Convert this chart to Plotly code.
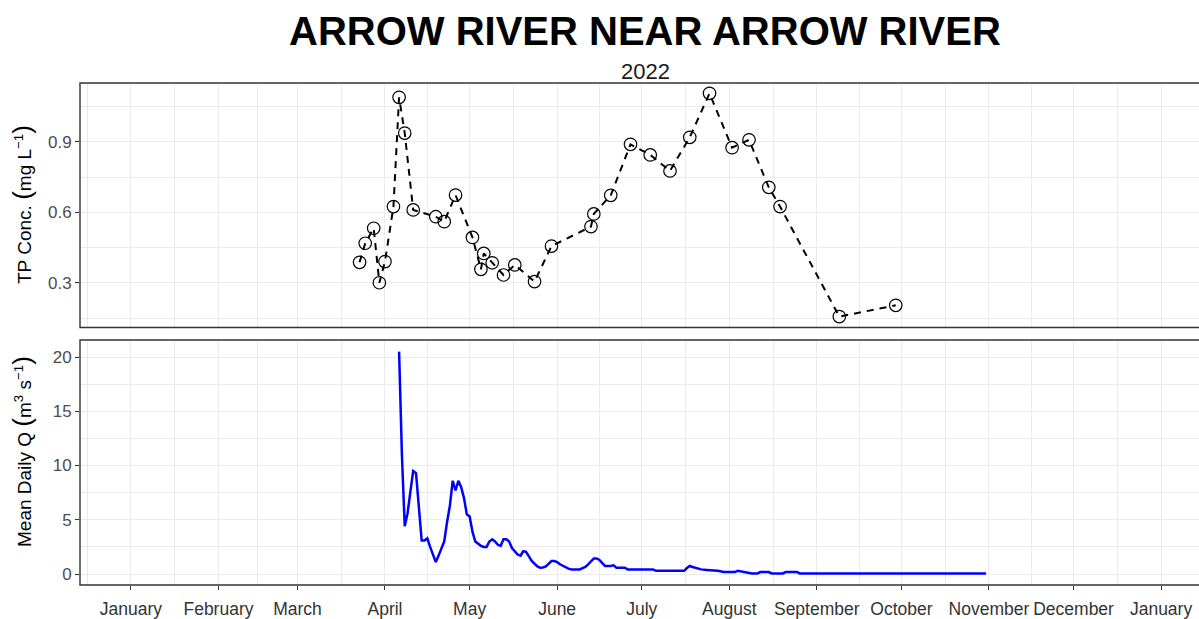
import pandas as pd
import plotly.graph_objects as go

# ---------------- data ----------------
tp_dates = ["2022-03-23", "2022-03-25", "2022-03-28", "2022-03-30", "2022-04-01",
            "2022-04-04", "2022-04-06", "2022-04-08", "2022-04-11", "2022-04-19",
            "2022-04-22", "2022-04-26", "2022-05-02", "2022-05-05", "2022-05-06",
            "2022-05-09", "2022-05-13", "2022-05-17", "2022-05-24", "2022-05-30",
            "2022-06-13", "2022-06-14", "2022-06-20", "2022-06-27", "2022-07-04",
            "2022-07-11", "2022-07-18", "2022-07-25", "2022-08-02", "2022-08-08",
            "2022-08-15", "2022-08-19", "2022-09-09", "2022-09-29"]
tp_conc = [0.388, 0.469, 0.533, 0.301, 0.391,
           0.625, 1.090, 0.938, 0.611, 0.582,
           0.561, 0.674, 0.494, 0.358, 0.426,
           0.386, 0.334, 0.377, 0.306, 0.457,
           0.540, 0.594, 0.673, 0.890, 0.845,
           0.777, 0.920, 1.107, 0.876, 0.909,
           0.707, 0.625, 0.157, 0.205]

q_dates = ["2022-04-06", "2022-04-07", "2022-04-08", "2022-04-09", "2022-04-10",
           "2022-04-11", "2022-04-12", "2022-04-13", "2022-04-14", "2022-04-15",
           "2022-04-16", "2022-04-17", "2022-04-18", "2022-04-19", "2022-04-20",
           "2022-04-21", "2022-04-22", "2022-04-23", "2022-04-24", "2022-04-25",
           "2022-04-26", "2022-04-27", "2022-04-28", "2022-04-29", "2022-04-30",
           "2022-05-01", "2022-05-02", "2022-05-03", "2022-05-04", "2022-05-05",
           "2022-05-06", "2022-05-07", "2022-05-08", "2022-05-09", "2022-05-10",
           "2022-05-11", "2022-05-12", "2022-05-13", "2022-05-14", "2022-05-15",
           "2022-05-16", "2022-05-17", "2022-05-18", "2022-05-19", "2022-05-20",
           "2022-05-21", "2022-05-22", "2022-05-23", "2022-05-24", "2022-05-25",
           "2022-05-26", "2022-05-27", "2022-05-28", "2022-05-29", "2022-05-30",
           "2022-05-31", "2022-06-01", "2022-06-02", "2022-06-03", "2022-06-04",
           "2022-06-05", "2022-06-06", "2022-06-09", "2022-06-10", "2022-06-11",
           "2022-06-12", "2022-06-13", "2022-06-14", "2022-06-15", "2022-06-16",
           "2022-06-17", "2022-06-18", "2022-06-20", "2022-06-21", "2022-06-22",
           "2022-06-25", "2022-06-26", "2022-07-05", "2022-07-06", "2022-07-16",
           "2022-07-17", "2022-07-18", "2022-07-19", "2022-07-20", "2022-07-21",
           "2022-07-22", "2022-07-24", "2022-07-28", "2022-07-30", "2022-08-03",
           "2022-08-04", "2022-08-06", "2022-08-09", "2022-08-11", "2022-08-12",
           "2022-08-15", "2022-08-16", "2022-08-20", "2022-08-21", "2022-08-25",
           "2022-08-26", "2022-10-31"]
q_vals = [20.5, 11.0, 4.4, 5.6, 7.6,
          9.5, 9.3, 5.8, 3.1, 3.1,
          3.3, 2.5, 1.7, 1.1, 1.7,
          2.3, 3.0, 4.8, 6.3, 8.6,
          7.7, 8.6, 8.0, 7.0, 5.5,
          5.3, 3.9, 3.0, 2.8, 2.6,
          2.5, 2.5, 3.0, 3.2, 3.0,
          2.7, 2.6, 3.2, 3.2, 3.0,
          2.4, 2.1, 1.8, 1.7, 2.1,
          2.05, 1.6, 1.2, 0.95, 0.7,
          0.58, 0.6, 0.7, 1.0, 1.2,
          1.2, 1.1, 0.9, 0.75, 0.6,
          0.5, 0.43, 0.43, 0.55, 0.65,
          0.9, 1.2, 1.44, 1.44, 1.3,
          1.0, 0.74, 0.74, 0.8, 0.58,
          0.58, 0.43, 0.43, 0.3, 0.3,
          0.55, 0.74, 0.65, 0.58, 0.5,
          0.43, 0.38, 0.3, 0.18, 0.18,
          0.3, 0.18, 0.06, 0.06, 0.18,
          0.18, 0.06, 0.06, 0.18, 0.18,
          0.06, 0.06]

month_starts = pd.date_range("2022-01-01", "2023-01-01", freq="MS")
month_labels = ["January", "February", "March", "April", "May", "June", "July",
                "August", "September", "October", "November", "December", "January"]
tp_ticks = [0.3, 0.6, 0.9]
q_ticks = [0, 5, 10, 15, 20]

# ---------------- layout constants ----------------
W, H = 1199, 619
ML, MR, MT, MB = 80, 0, 83, 34
ref = pd.Timestamp("2022-01-01")
x_range = [ref - pd.Timedelta(days=18.07), ref + pd.Timedelta(days=378.45)]
ph = H - MT - MB
top_dom = [(H - MB - 327.5) / ph, 1.0]
bot_dom = [0.0, (H - MB - 340) / ph]

# minor grid between month starts
ms_ext = pd.date_range("2021-12-01", "2023-02-01", freq="MS")
minor_x = [ms_ext[i] + (ms_ext[i + 1] - ms_ext[i]) / 2 for i in range(len(ms_ext) - 1)]

GRID = "#EBEBEB"
TICKC = "#333333"
FONT = "Liberation Sans, Arial, sans-serif"

fig = go.Figure()
fig.add_trace(go.Scatter(
    x=pd.to_datetime(tp_dates), y=tp_conc, mode="lines",
    line=dict(color="black", width=2, dash="7px,6px"),
    xaxis="x", yaxis="y", showlegend=False, hoverinfo="skip"))
fig.add_trace(go.Scatter(
    x=pd.to_datetime(tp_dates), y=tp_conc, mode="markers",
    marker=dict(symbol="circle-open", size=12.5, color="black", line=dict(width=1.2)),
    xaxis="x", yaxis="y", showlegend=False))
fig.add_trace(go.Scatter(
    x=pd.to_datetime(q_dates), y=q_vals, mode="lines",
    line=dict(color="#0000FF", width=2.5),
    xaxis="x2", yaxis="y2", showlegend=False))

common_x = dict(range=x_range, type="date", showgrid=True, gridcolor=GRID, gridwidth=1.2,
                tickmode="array", tickvals=list(month_starts), zeroline=False,
                minor=dict(tickmode="array", tickvals=minor_x, showgrid=True,
                           gridcolor=GRID, gridwidth=0.6, ticks=""))
fig.update_layout(
    width=W, height=H,
    margin=dict(l=ML, r=MR, t=MT, b=MB, autoexpand=False),
    paper_bgcolor="white", plot_bgcolor="white",
    font=dict(family=FONT, color="black"),
    xaxis=dict(**common_x, anchor="y", showticklabels=False, ticks=""),
    xaxis2=dict(**common_x, anchor="y2", ticktext=month_labels, ticks="outside",
                ticklen=4, tickcolor=TICKC, tickwidth=1, tickangle=0,
                ticklabelstandoff=4,
                tickfont=dict(size=17.5, color="#333333", family=FONT)),
    yaxis=dict(domain=top_dom, range=[0.1106, 1.151], tickmode="array", tickvals=tp_ticks,
               ticktext=["0.3", "0.6", "0.9"], showgrid=True, gridcolor=GRID, gridwidth=1.2,
               zeroline=False, ticks="outside", ticklen=4, tickcolor=TICKC,
               tickfont=dict(size=17, color="#4D4D4D", family=FONT),
               minor=dict(tickmode="array", tickvals=[0.15, 0.45, 0.75, 1.05], showgrid=True,
                          gridcolor=GRID, gridwidth=0.6, ticks="")),
    yaxis2=dict(domain=bot_dom, range=[-1.01, 21.57], tickmode="array", tickvals=q_ticks,
                showgrid=True, gridcolor=GRID, gridwidth=1.2,
                zeroline=False, ticks="outside", ticklen=4, tickcolor=TICKC,
                tickfont=dict(size=17, color="#4D4D4D", family=FONT),
                minor=dict(tickmode="array", tickvals=[2.5, 7.5, 12.5, 17.5], showgrid=True,
                           gridcolor=GRID, gridwidth=0.6, ticks="")),
)

# panel borders (right side extends past the page edge, as in the reference)
for dom in (top_dom, bot_dom):
    fig.add_shape(type="rect", xref="paper", yref="paper", x0=0, x1=1.02,
                  y0=dom[0], y1=dom[1], line=dict(color=TICKC, width=1.4),
                  fillcolor="rgba(0,0,0,0)", layer="above")

def px_x(p):
    return (p - ML) / (W - ML - MR)

def px_y(p):
    return (H - MB - p) / ph

BIGP = "<span style='font-size:26px'>%s</span>"
fig.add_annotation(text="<b>ARROW RIVER NEAR ARROW RIVER</b>", xref="paper", yref="paper",
                   x=px_x(645), y=px_y(31), xanchor="center", yanchor="middle",
                   showarrow=False, font=dict(size=40, color="black", family=FONT))
fig.add_annotation(text="2022", xref="paper", yref="paper",
                   x=px_x(645), y=px_y(71), xanchor="center", yanchor="middle",
                   showarrow=False, font=dict(size=22, color="#1a1a1a", family=FONT))
fig.add_annotation(text="TP Conc. " + BIGP % "(" + "mg L<sup>−1</sup>" + BIGP % ")",
                   xref="paper", yref="paper",
                   x=px_x(22), y=px_y(205), xanchor="center", yanchor="middle",
                   textangle=-90, showarrow=False, font=dict(size=19, color="black", family=FONT))
fig.add_annotation(text="Mean Daily Q " + BIGP % "(" + "m<sup>3</sup> s<sup>−1</sup>" + BIGP % ")",
                   xref="paper", yref="paper",
                   x=px_x(22), y=px_y(452), xanchor="center", yanchor="middle",
                   textangle=-90, showarrow=False, font=dict(size=19, color="black", family=FONT))

fig.write_html("out.html", config={"displayModeBar": False},
               post_script="document.body.style.margin='0';")
